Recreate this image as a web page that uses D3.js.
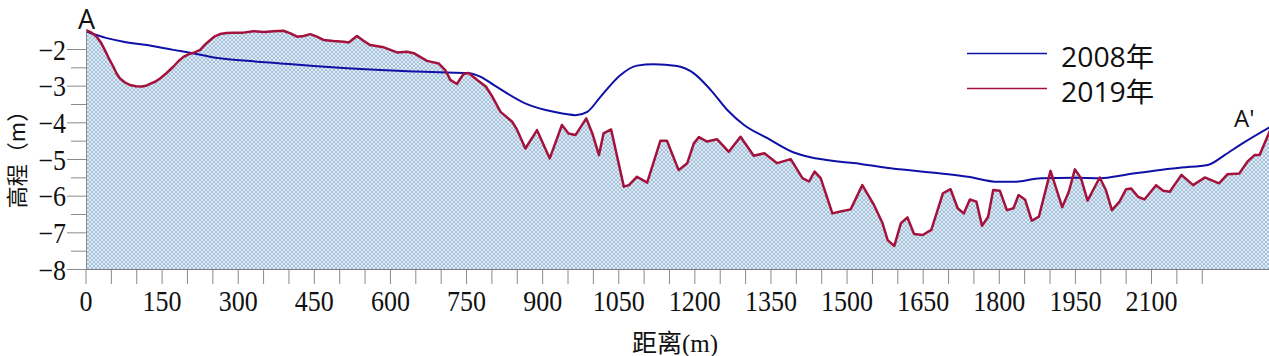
<!DOCTYPE html>
<html><head><meta charset="utf-8">
<script src="https://cdn.jsdelivr.net/npm/d3@7"></script>
<style>html,body{margin:0;padding:0;background:#fff;overflow:hidden}</style>
</head><body><svg id="c" width="1269" height="356"></svg>
<script>
// 2008 profile: distance (m), elevation (m)
const dist2008 = [0,41,74,120,172,218,264,317,383,449,514,580,646,711,751,777,804,869,922,965,988,1014,1053,1086,1119,1165,1198,1231,1264,1297,1343,1395,1428,1487,1527,1586,1685,1738,1797,1830,1882,1948,2000,2047,2113,2159,2211,2244,2277,2334];
const elev2008 = [-1.51,-1.69,-1.79,-1.88,-2.01,-2.12,-2.24,-2.31,-2.38,-2.45,-2.51,-2.56,-2.60,-2.63,-2.64,-2.74,-2.97,-3.49,-3.70,-3.79,-3.70,-3.29,-2.70,-2.44,-2.40,-2.45,-2.65,-3.10,-3.65,-4.06,-4.42,-4.81,-4.94,-5.06,-5.12,-5.24,-5.38,-5.47,-5.61,-5.61,-5.51,-5.50,-5.51,-5.42,-5.29,-5.22,-5.15,-4.88,-4.58,-4.11];
// 2019 profile
const dist2019 = [0,11,21,29,37,45,54,60,67,77,87,98,110,118,126,136,146,159,172,182,192,202,212,225,235,245,254,264,277,291,310,330,350,370,389,403,416,429,442,455,468,488,508,518,534,547,560,587,613,633,646,672,695,708,718,731,744,754,771,788,801,817,840,850,866,889,914,938,951,965,986,998,1011,1020,1035,1060,1070,1086,1106,1132,1145,1168,1185,1198,1208,1224,1244,1267,1290,1316,1337,1362,1389,1412,1425,1436,1448,1471,1487,1507,1530,1553,1570,1580,1593,1606,1619,1632,1649,1666,1689,1704,1718,1730,1742,1755,1766,1778,1788,1801,1815,1828,1838,1851,1864,1878,1901,1924,1937,1949,1961,1974,1998,2010,2022,2037,2050,2060,2073,2086,2109,2123,2136,2159,2182,2205,2233,2250,2273,2289,2303,2313,2334];
const elev2019 = [-1.47,-1.54,-1.65,-1.80,-2.01,-2.24,-2.47,-2.65,-2.79,-2.90,-2.97,-3.00,-3.01,-2.99,-2.94,-2.88,-2.79,-2.64,-2.47,-2.32,-2.20,-2.13,-2.09,-2.01,-1.86,-1.74,-1.64,-1.58,-1.55,-1.54,-1.54,-1.50,-1.52,-1.50,-1.49,-1.56,-1.65,-1.63,-1.58,-1.65,-1.74,-1.77,-1.79,-1.81,-1.63,-1.76,-1.88,-1.94,-2.08,-2.06,-2.10,-2.31,-2.38,-2.56,-2.83,-2.94,-2.67,-2.64,-2.83,-3.01,-3.29,-3.70,-3.97,-4.20,-4.70,-4.20,-4.97,-4.06,-4.29,-4.33,-3.88,-4.29,-4.88,-4.29,-4.18,-5.74,-5.70,-5.47,-5.63,-4.49,-4.49,-5.29,-5.10,-4.56,-4.39,-4.51,-4.45,-4.79,-4.38,-4.90,-4.83,-5.10,-4.99,-5.51,-5.60,-5.33,-5.51,-6.47,-6.42,-6.36,-5.70,-6.24,-6.74,-7.20,-7.36,-6.74,-6.58,-7.03,-7.06,-6.92,-5.92,-5.81,-6.33,-6.47,-6.09,-6.15,-6.81,-6.56,-5.83,-5.85,-6.38,-6.33,-5.97,-6.10,-6.67,-6.56,-5.31,-6.30,-5.88,-5.27,-5.51,-6.12,-5.49,-5.83,-6.38,-6.15,-5.81,-5.79,-6.01,-6.09,-5.70,-5.85,-5.88,-5.42,-5.70,-5.49,-5.65,-5.40,-5.38,-5.06,-4.88,-4.88,-4.20];
const xTickLabels = [0,150,300,450,600,750,900,1050,1200,1350,1500,1650,1800,1950,2100];
const yTickLabels = [-2,-3,-4,-5,-6,-7,-8];
const seriesNames = ["2008年","2019年"];
const sectionLabels = ["A","A'"];

const svg = d3.select("#c");
const x = d3.scaleLinear().domain([0,2100]).range([86,1151.5]);
const y = d3.scaleLinear().domain([-8,-2]).range([269.5,49.5]);

const defs = svg.append("defs");
const pat = defs.append("pattern").attr("id","hatch").attr("patternUnits","userSpaceOnUse")
  .attr("width",4).attr("height",4);
pat.append("rect").attr("width",4).attr("height",4).attr("fill","#dfeaf4");
pat.append("path").attr("d","M-1,1 l2,-2 M0,4 l4,-4 M3,5 l2,-2").attr("stroke","#a4c2dc").attr("stroke-width",1);
pat.append("path").attr("d","M-1,3 l2,2 M0,0 l4,4 M3,-1 l2,2").attr("stroke","#a4c2dc").attr("stroke-width",1);
defs.append("clipPath").attr("id","clip").append("rect").attr("x",86).attr("y",0).attr("width",1183).attr("height",270);

const d19 = dist2019.map((d,i)=>[d,elev2019[i]]);
const d08 = dist2008.map((d,i)=>[d,elev2008[i]]);

const g = svg.append("g").attr("clip-path","url(#clip)");
g.append("path").datum(d19)
  .attr("d", d3.area().x(d=>x(d[0])).y0(y(-8)).y1(d=>y(d[1])))
  .attr("fill","url(#hatch)");

// axes
const ax = svg.append("g");
const xTicks = d3.range(0,2201,50);
ax.selectAll(".xt").data(xTicks).join("line")
  .attr("x1",d=>x(d)).attr("x2",d=>x(d)).attr("y1",269.5).attr("y2",284)
  .attr("stroke","#8a8a8a").attr("stroke-width",1);
ax.append("line").attr("x1",86).attr("x2",1269).attr("y1",269.5).attr("y2",269.5)
  .attr("stroke","#7a7a7a").attr("stroke-width",1);
const yTicks = d3.range(-8,-1.9,0.5);
ax.selectAll(".yt").data(yTicks).join("line")
  .attr("x1",d=>Number.isInteger(d)?67:71).attr("x2",86).attr("y1",d=>y(d)).attr("y2",d=>y(d))
  .attr("stroke","#8a8a8a").attr("stroke-width",1);
ax.append("line").attr("x1",86.5).attr("x2",86.5).attr("y1",y(-1.47)).attr("y2",269.5)
  .attr("stroke","#8a8a8a").attr("stroke-width",1);

const serif = "'Liberation Serif','DejaVu Serif',serif";
ax.selectAll(".xl").data(xTickLabels).join("text")
  .attr("transform",d=>`translate(${x(d)},311) scale(1,1.1)`).attr("text-anchor","middle")
  .attr("font-family",serif).attr("font-size",26).attr("fill","#111")
  .text(d=>d);
ax.selectAll(".yl").data(yTickLabels).join("text")
  .attr("transform",d=>`translate(66,${y(d)+10}) scale(1,1.1)`).attr("text-anchor","end")
  .attr("font-family",serif).attr("font-size",26).attr("fill","#111")
  .text(d=>"\u2212"+Math.abs(d));

svg.append("text").attr("x",675).attr("y",352).attr("text-anchor","middle")
  .attr("font-family","'Liberation Serif','Noto Sans CJK SC',serif").attr("font-size",25).attr("fill","#111")
  .text("距离(m)");
svg.append("text").attr("transform","translate(25,154) rotate(-90)").attr("text-anchor","middle")
  .attr("font-family","'Noto Sans CJK SC',sans-serif").attr("font-size",22).attr("fill","#111")
  .text("高程（m）");

// lines
g.append("path").datum(d08)
  .attr("d", d3.line().x(d=>x(d[0])).y(d=>y(d[1])).curve(d3.curveMonotoneX))
  .attr("fill","none").attr("stroke","#0f10a6").attr("stroke-width",2);
g.append("path").datum(d19)
  .attr("d", d3.line().x(d=>x(d[0])).y(d=>y(d[1])))
  .attr("fill","none").attr("stroke","#a3123c").attr("stroke-width",2.5).attr("stroke-linejoin","round");

// legend
const colors = ["#0f10a6","#a3123c"];
const lg = svg.append("g");
seriesNames.forEach((s,i)=>{
  const yy = 53.5 + i*35;
  lg.append("line").attr("x1",967).attr("x2",1047).attr("y1",yy).attr("y2",yy)
    .attr("stroke",colors[i]).attr("stroke-width",1.6);
  lg.append("text").attr("transform",`translate(1061,${yy+13}) scale(1.05,1)`)
    .attr("font-family","'Open Sans','Noto Sans CJK SC',sans-serif").attr("font-size",27).attr("fill","#111")
    .text(s);
});
svg.append("text").attr("x",78).attr("y",29).attr("font-family","'Open Sans',sans-serif")
  .attr("font-size",27).attr("fill","#111").text(sectionLabels[0]);
svg.append("text").attr("x",1234).attr("y",127).attr("font-family","'Open Sans',sans-serif")
  .attr("font-size",24).attr("fill","#111").text(sectionLabels[1]);
</script></body></html>
